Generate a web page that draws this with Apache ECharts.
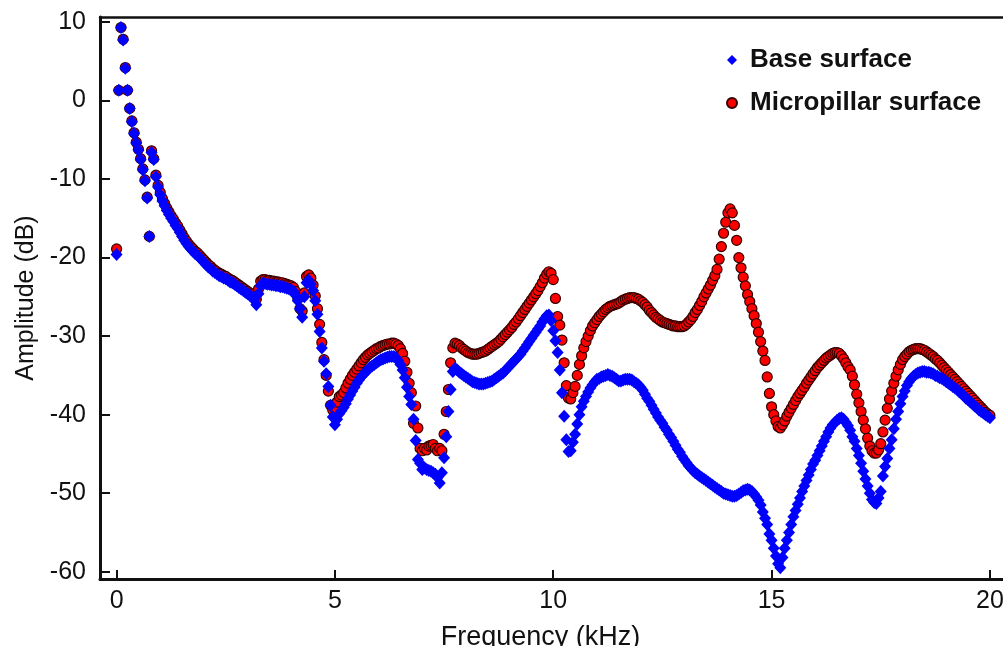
<!DOCTYPE html>
<html>
<head>
<meta charset="utf-8">
<script src="https://cdn.jsdelivr.net/npm/echarts@6/dist/echarts.min.js"></script>
<style>
  html, body { margin: 0; padding: 0; background: #ffffff; }
  #chart { width: 1003px; height: 646px; }
</style>
</head>
<body>
<div id="chart"></div>
<script>
// Frequency response of the two surfaces, sampled every 0.05 kHz from 0 to 20 kHz.
const stepKHz = 0.05;

// Micropillar surface amplitude (dB)
const micropillarDB = [
  -18.9, 1.3, 9.3, 7.8, 4.2, 1.3, -1.0, -2.6, -4.1, -5.3,
  -6.2, -7.4, -8.7, -10.1, -12.3, -17.3, -6.4, -7.4, -9.5, -10.8,
  -11.7, -12.5, -13.1, -13.7, -14.2, -14.7, -15.1, -15.6, -16.0, -16.5,
  -17.0, -17.5, -17.9, -18.3, -18.6, -18.9, -19.2, -19.4, -19.7, -20.0,
  -20.3, -20.6, -20.9, -21.1, -21.4, -21.6, -21.8, -22.0, -22.1, -22.3,
  -22.4, -22.6, -22.8, -22.9, -23.1, -23.3, -23.5, -23.7, -23.9, -24.1,
  -24.3, -24.5, -24.7, -25.0, -25.3, -24.0, -23.0, -22.8, -22.8, -22.9,
  -22.9, -23.0, -23.0, -23.1, -23.1, -23.2, -23.2, -23.3, -23.4, -23.5,
  -23.6, -23.8, -24.3, -25.2, -26.5, -26.8, -24.5, -22.4, -22.2, -22.6,
  -23.5, -24.9, -26.5, -28.5, -30.8, -33.0, -35.0, -37.0, -38.8, -39.4,
  -39.2, -38.4, -37.7, -37.5, -37.2, -36.6, -36.0, -35.5, -35.0, -34.6,
  -34.2, -33.8, -33.4, -33.0, -32.7, -32.4, -32.2, -32.0, -31.8, -31.6,
  -31.5, -31.3, -31.2, -31.1, -31.0, -31.0, -30.9, -30.9, -31.0, -31.2,
  -31.6, -32.2, -33.2, -34.6, -36.0, -37.2, -41.1, -38.9, -41.7, -44.3,
  -44.6, -44.3, -44.5, -44.0, -43.9, -43.8, -44.3, -44.6, -44.3, -44.6,
  -42.5, -39.6, -36.8, -33.4, -31.5, -30.9, -31.0, -31.2, -31.5, -31.7,
  -31.9, -32.1, -32.2, -32.3, -32.3, -32.3, -32.2, -32.1, -32.0, -31.9,
  -31.7, -31.5, -31.3, -31.1, -30.9, -30.7, -30.4, -30.1, -29.8, -29.5,
  -29.2, -28.9, -28.5, -28.2, -27.8, -27.4, -27.0, -26.6, -26.2, -25.8,
  -25.4, -25.0, -24.6, -24.2, -23.7, -23.2, -22.6, -22.1, -21.8, -22.0,
  -22.8, -25.2, -27.5, -28.6, -30.5, -33.4, -36.3, -37.9, -38.0, -37.2,
  -36.4, -35.0, -33.6, -32.5, -31.5, -30.7, -30.0, -29.3, -28.7, -28.3,
  -27.9, -27.5, -27.2, -26.9, -26.6, -26.4, -26.2, -26.1, -26.0, -25.9,
  -25.8, -25.6, -25.4, -25.3, -25.2, -25.1, -25.1, -25.1, -25.2, -25.3,
  -25.5, -25.7, -26.0, -26.3, -26.7, -27.0, -27.3, -27.6, -27.8, -28.0,
  -28.2, -28.3, -28.4, -28.5, -28.6, -28.7, -28.7, -28.8, -28.8, -28.8,
  -28.7, -28.5, -28.2, -27.9, -27.5, -27.0, -26.6, -26.1, -25.6, -25.0,
  -24.5, -24.0, -23.5, -22.9, -22.3, -21.5, -20.2, -18.6, -16.9, -15.5,
  -14.3, -13.8, -14.3, -15.9, -17.8, -20.0, -21.3, -22.5, -23.6, -24.7,
  -25.6, -26.5, -27.4, -28.4, -29.5, -30.7, -31.9, -33.1, -35.2, -37.3,
  -39.0, -40.0, -40.8, -41.5, -41.7, -41.3, -40.8, -40.2, -39.7, -39.2,
  -38.7, -38.2, -37.7, -37.3, -36.9, -36.5, -36.0, -35.6, -35.2, -34.8,
  -34.4, -34.0, -33.7, -33.4, -33.1, -32.8, -32.6, -32.4, -32.2, -32.1,
  -32.1, -32.2, -32.5, -32.9, -33.4, -33.9, -34.3, -35.1, -36.2, -37.4,
  -38.5, -39.6, -40.7, -41.8, -43.0, -44.0, -44.6, -44.9, -44.9, -44.5,
  -43.7, -42.2, -40.7, -39.2, -38.0, -37.0, -36.0, -35.1, -34.3, -33.6,
  -33.0, -32.6, -32.3, -32.0, -31.8, -31.7, -31.6, -31.6, -31.6, -31.7,
  -31.8, -32.0, -32.2, -32.4, -32.6, -32.9, -33.1, -33.4, -33.7, -34.0,
  -34.3, -34.6, -34.9, -35.2, -35.5, -35.8, -36.1, -36.4, -36.7, -37.0,
  -37.3, -37.6, -37.9, -38.2, -38.5, -38.8, -39.1, -39.4, -39.7, -39.9,
  -40.1
];

// Base surface amplitude (dB)
const baseDB = [
  -19.6, 1.3, 9.3, 7.7, 4.1, 1.3, -1.0, -2.7, -4.2, -5.4,
  -6.3, -7.5, -8.8, -10.2, -12.4, -17.3, -6.6, -7.5, -9.7, -11.0,
  -12.0, -12.8, -13.4, -14.0, -14.5, -15.0, -15.4, -15.9, -16.3, -16.8,
  -17.3, -17.8, -18.2, -18.6, -18.9, -19.2, -19.5, -19.7, -20.0, -20.3,
  -20.6, -20.9, -21.2, -21.4, -21.7, -21.9, -22.1, -22.3, -22.4, -22.6,
  -22.7, -22.9, -23.1, -23.2, -23.4, -23.6, -23.8, -24.0, -24.2, -24.4,
  -24.6, -24.8, -25.0, -25.4, -26.0, -24.6, -23.6, -23.3, -23.3, -23.4,
  -23.4, -23.5, -23.5, -23.6, -23.6, -23.7, -23.7, -23.8, -23.9, -24.0,
  -24.1, -24.3, -24.8, -25.5, -26.5, -27.6, -25.0, -23.2, -22.9, -23.4,
  -24.2, -25.5, -27.2, -29.4, -31.5, -33.2, -34.8, -36.4, -38.8, -40.3,
  -41.3, -40.6, -39.9, -39.5, -39.1, -38.6, -38.0, -37.5, -37.0, -36.5,
  -36.0, -35.6, -35.2, -34.9, -34.6, -34.3, -34.0, -33.8, -33.6, -33.4,
  -33.2, -33.0, -32.9, -32.8, -32.7, -32.6, -32.6, -32.6, -32.8, -33.1,
  -33.6, -34.3, -35.3, -36.5, -37.7, -38.7, -40.6, -43.3, -45.7, -46.2,
  -47.0, -46.8, -47.0, -47.1, -47.2, -47.4, -47.6, -48.0, -48.7, -47.4,
  -45.5, -42.8, -39.6, -36.8, -34.5, -34.1, -34.3, -34.6, -34.8, -35.0,
  -35.2, -35.4, -35.6, -35.8, -35.9, -36.0, -36.1, -36.1, -36.1, -36.0,
  -35.9, -35.8, -35.7, -35.5, -35.3, -35.1, -34.9, -34.7, -34.4, -34.1,
  -33.8, -33.5, -33.2, -32.9, -32.6, -32.3, -31.9, -31.5, -31.1, -30.7,
  -30.3, -29.9, -29.5, -29.1, -28.7, -28.2, -27.8, -27.4, -27.3, -28.0,
  -29.3, -30.6, -32.1, -34.3, -37.2, -40.2, -43.2, -44.7, -44.6, -43.5,
  -42.5, -41.2, -40.0, -39.0, -38.3, -37.7, -37.1, -36.6, -36.2, -35.8,
  -35.5, -35.4, -35.2, -35.1, -35.0, -34.9, -35.0, -35.1, -35.3, -35.5,
  -35.7, -35.7, -35.6, -35.5, -35.5, -35.5, -35.6, -35.8, -36.0, -36.2,
  -36.5, -36.9, -37.4, -37.9, -38.3, -38.8, -39.3, -39.8, -40.3, -40.7,
  -41.1, -41.6, -42.0, -42.5, -42.9, -43.4, -43.9, -44.4, -44.8, -45.3,
  -45.7, -46.1, -46.5, -46.8, -47.1, -47.4, -47.6, -47.8, -48.0, -48.2,
  -48.4, -48.6, -48.8, -49.0, -49.2, -49.4, -49.6, -49.8, -50.0, -50.1,
  -50.2, -50.3, -50.4, -50.4, -50.3, -50.1, -49.9, -49.7, -49.6, -49.5,
  -49.6, -49.8, -50.1, -50.5, -50.9, -51.5, -52.4, -53.2, -54.0, -55.2,
  -56.0, -57.0, -58.0, -59.0, -59.5, -58.2, -57.0, -56.0, -55.0, -54.0,
  -53.0, -52.2, -51.4, -50.6, -49.8, -49.1, -48.4, -47.7, -47.0, -46.3,
  -45.8, -45.2, -44.6, -44.0, -43.4, -42.8, -42.2, -41.7, -41.3, -41.0,
  -40.7, -40.5, -40.4, -40.6, -41.0, -41.4, -42.0, -42.8, -43.4, -44.3,
  -45.2, -46.2, -47.2, -48.2, -49.1, -50.0, -50.8, -51.2, -51.3, -50.6,
  -49.8, -47.8, -46.6, -45.6, -44.3, -43.2, -41.8, -40.6, -39.6, -38.6,
  -37.7, -37.0, -36.3, -35.8, -35.4, -35.1, -34.9, -34.7, -34.6, -34.5,
  -34.5, -34.6, -34.6, -34.7, -34.8, -35.0, -35.1, -35.3, -35.4, -35.6,
  -35.8, -36.0, -36.2, -36.4, -36.6, -36.8, -37.1, -37.3, -37.6, -37.9,
  -38.1, -38.4, -38.6, -38.9, -39.1, -39.4, -39.6, -39.8, -40.0, -40.2,
  -40.4
];

// Axis tick labels
const freqTicks = [0, 5, 10, 15, 20];
const ampTicks = [-60, -50, -40, -30, -20, -10, 0, 10];

const seriesNames = ['Base surface', 'Micropillar surface'];

const toPairs = (values) => values.map((v, i) => [+(i * stepKHz).toFixed(2), v]);

const FONT = '"Liberation Sans", Arial, Helvetica, sans-serif';
const INK = '#111111';
const X_MIN = -0.38;
const X_MAX = 20.3;

const chart = echarts.init(document.getElementById('chart'), null, { renderer: 'canvas' });

chart.setOption({
  animation: false,
  backgroundColor: '#ffffff',
  textStyle: { fontFamily: FONT },
  grid: { left: 100, right: 0, top: 17, bottom: 67, containLabel: false, outerBoundsMode: 'none' },
  legend: {
    orient: 'vertical',
    left: 721,
    top: 42,
    padding: 5,
    itemWidth: 10,
    itemHeight: 10,
    itemGap: 17,
    data: [
      { name: seriesNames[0], icon: 'diamond' },
      { name: seriesNames[1], icon: 'circle' }
    ],
    textStyle: {
      fontFamily: FONT,
      fontWeight: 'bold',
      fontSize: 26,
      lineHeight: 26,
      color: INK,
      padding: [0, 0, 0, 8]
    }
  },
  xAxis: [
    {
      type: 'value',
      position: 'bottom',
      min: X_MIN,
      max: X_MAX,
      name: 'Frequency (kHz)',
      nameLocation: 'middle',
      nameGap: 45,
      nameTextStyle: { fontFamily: FONT, fontSize: 27, color: INK, padding: [0, 22, 0, 0] },
      axisLine: { onZero: false, lineStyle: { color: INK, width: 3 } },
      axisTick: { show: true, inside: true, length: 9, customValues: freqTicks, lineStyle: { color: INK, width: 2 } },
      axisLabel: { customValues: freqTicks, margin: 10, fontFamily: FONT, fontSize: 25, color: INK },
      splitLine: { show: false }
    },
    {
      // frame line along the top of the plot
      type: 'value',
      position: 'top',
      min: X_MIN,
      max: X_MAX,
      axisLine: { onZero: false, lineStyle: { color: INK, width: 2.5 } },
      axisTick: { show: false },
      axisLabel: { show: false },
      splitLine: { show: false }
    }
  ],
  yAxis: {
    type: 'value',
    min: -60.93,
    max: 10.64,
    name: 'Amplitude (dB)',
    nameLocation: 'middle',
    nameGap: 58,
    nameRotate: 90,
    nameTextStyle: { fontFamily: FONT, fontSize: 25, color: INK },
    axisLine: { onZero: false, lineStyle: { color: INK, width: 3 } },
    axisTick: { show: true, inside: true, length: 10, customValues: ampTicks, lineStyle: { color: INK, width: 2 } },
    axisLabel: { customValues: ampTicks, margin: 14, fontFamily: FONT, fontSize: 25, color: INK },
    splitLine: { show: false }
  },
  series: [
    {
      name: seriesNames[1],
      type: 'scatter',
      symbol: 'circle',
      symbolSize: 10,
      z: 2,
      itemStyle: { color: '#ff0000', borderColor: '#330000', borderWidth: 1.2, opacity: 1 },
      data: toPairs(micropillarDB)
    },
    {
      name: seriesNames[0],
      type: 'scatter',
      symbol: 'diamond',
      symbolSize: [12, 13],
      z: 3,
      itemStyle: { color: '#0000ff', opacity: 1 },
      data: toPairs(baseDB)
    }
  ]
});
</script>
</body>
</html>
